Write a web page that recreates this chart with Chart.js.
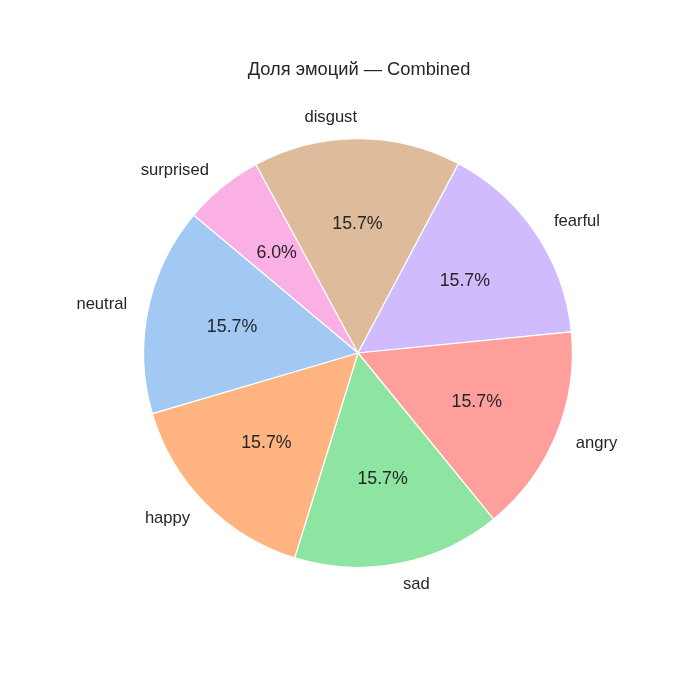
<!DOCTYPE html>
<html>
<head>
<meta charset="utf-8">
<script src="https://cdn.jsdelivr.net/npm/chart.js@4"></script>
<style>
  html, body { margin: 0; padding: 0; background: #ffffff; }
  #wrap { width: 700px; height: 700px; }
</style>
</head>
<body>
<div id="wrap"><canvas id="chart" width="700" height="700"></canvas></div>
<script>
// Доля эмоций — Combined (pie)
const chartTitle = 'Доля эмоций — Combined';
const emotions = ['neutral', 'happy', 'sad', 'angry', 'fearful', 'disgust', 'surprised'];
const shares = [15.7, 15.7, 15.7, 15.7, 15.7, 15.7, 6.0];
const colors = ['#a1c9f4', '#ffb482', '#8de5a1', '#ff9f9b', '#d0bbff', '#debb9b', '#fab0e4'];

const FONT = '"Liberation Sans", Arial, sans-serif';
const TEXT_COLOR = '#262626';

// matplotlib draws counterclockwise from 140deg, Chart.js goes clockwise -> reverse
const labels = emotions.slice().reverse();
const data = shares.slice().reverse();
const bg = colors.slice().reverse();
const total = shares.reduce((a, b) => a + b, 0);

const pieText = {
  id: 'pieText',
  afterDatasetsDraw(chart) {
    const ctx = chart.ctx;
    const arcs = chart.getDatasetMeta(0).data;
    ctx.save();
    ctx.fillStyle = TEXT_COLOR;
    ctx.textBaseline = 'middle';
    arcs.forEach((arc, i) => {
      const mid = (arc.startAngle + arc.endAngle) / 2;
      const r = arc.outerRadius;
      const c = Math.cos(mid), s = Math.sin(mid);
      // percentage inside
      ctx.font = '17.8px ' + FONT;
      ctx.textAlign = 'center';
      const pct = (data[i] / total * 100).toFixed(1) + '%';
      ctx.fillText(pct, arc.x + c * r * 0.6, arc.y + s * r * 0.6);
      // category outside
      ctx.font = '16.6px ' + FONT;
      ctx.textAlign = c > 0 ? 'left' : 'right';
      ctx.fillText(labels[i], arc.x + c * r * 1.1, arc.y + s * r * 1.1);
    });
    // title
    ctx.font = '18.3px ' + FONT;
    ctx.textAlign = 'center';
    ctx.fillText(chartTitle, 359, 70);
    ctx.restore();
  }
};

new Chart(document.getElementById('chart'), {
  type: 'pie',
  data: {
    labels,
    datasets: [{
      data,
      backgroundColor: bg,
      borderColor: '#ffffff',
      borderWidth: 1.2
    }]
  },
  options: {
    responsive: false,
    animation: false,
    rotation: -50,
    layout: { padding: { left: 143, right: 127, top: 138, bottom: 132 } },
    plugins: {
      legend: { display: false },
      tooltip: { enabled: false },
      title: { display: false }
    }
  },
  plugins: [pieText]
});
</script>
</body>
</html>
